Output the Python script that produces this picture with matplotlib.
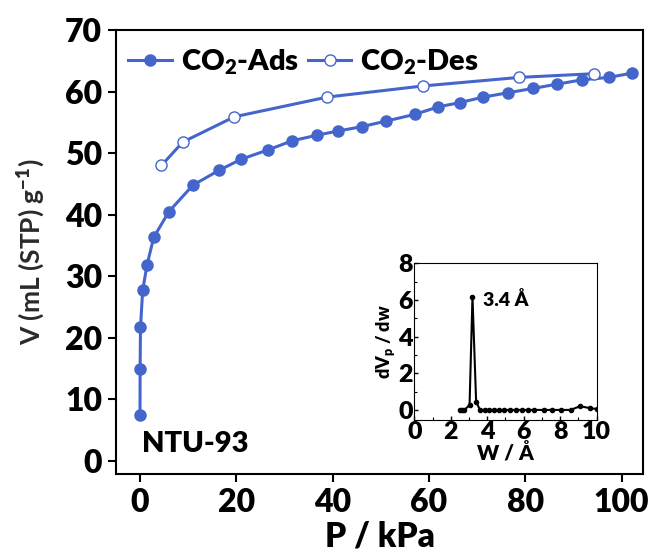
import matplotlib
matplotlib.use('Agg')
import numpy as np
from matplotlib import pyplot as plt
from matplotlib.ticker import MultipleLocator

W = 'heavy'
plt.rcParams['font.family'] = ['Lato', 'DejaVu Sans']
plt.rcParams['font.weight'] = W
plt.rcParams['mathtext.fontset'] = 'custom'
plt.rcParams['mathtext.rm'] = 'Lato:heavy'
plt.rcParams['mathtext.default'] = 'rm'

BLUE = '#4466CC'

# CO2 adsorption branch
p_ads = [0.0, 0.02, 0.1, 0.55, 1.45, 2.84, 6.0, 11.0, 16.4, 21.0, 26.5, 31.6, 36.7,
         41.2, 46.1, 51.1, 57.1, 61.9, 66.4, 71.3, 76.4, 81.6, 86.6, 91.8, 97.4, 102.2]
v_ads = [7.5, 15.0, 21.7, 27.7, 31.8, 36.3, 40.5, 44.8, 47.2, 49.0, 50.5, 52.0, 52.9,
         53.6, 54.3, 55.2, 56.3, 57.5, 58.2, 59.1, 59.8, 60.5, 61.2, 61.9, 62.3, 63.0]

# CO2 desorption branch
p_des = [4.45, 8.9, 19.6, 38.9, 58.7, 78.8, 94.3]
v_des = [48.0, 51.8, 55.9, 59.1, 60.9, 62.3, 62.9]

# pore size distribution
w_psd = [2.48, 2.61, 2.75, 3.03, 3.19, 3.39, 3.6, 3.85, 4.1, 4.37, 4.64, 4.92, 5.23,
         5.56, 5.89, 6.22, 6.58, 7.1, 7.56, 8.04, 8.57, 9.08, 9.63, 10.0]
dv_psd = [0.0, 0.0, 0.0, 0.27, 6.18, 0.45, 0.0, 0.0, 0.0, 0.0, 0.0, 0.0, 0.0,
          0.0, 0.0, 0.0, 0.0, 0.0, 0.0, 0.0, 0.0, 0.2, 0.1, 0.05]

fig = plt.figure(figsize=(6.55, 5.56), dpi=100)
ax = fig.add_axes([0.177, 0.1466, 0.805, 0.7995])

ax.plot(p_ads, v_ads, '-o', color=BLUE, lw=2.2, ms=8, mfc=BLUE, mec=BLUE,
        label='CO$_2$-Ads')
ax.plot(p_des, v_des, '-o', color=BLUE, lw=2.2, ms=8, mfc='white', mec=BLUE,
        label='CO$_2$-Des')

ax.set_xlim(-5, 104.5)
ax.set_ylim(-2.2, 70)
ax.set_xticks(np.arange(0, 101, 20))
ax.set_yticks(np.arange(0, 71, 10))
ax.tick_params(direction='out', length=6, width=1.5, labelsize=23, pad=4)
for s in ax.spines.values():
    s.set_linewidth(1.5)
for lab in ax.get_xticklabels() + ax.get_yticklabels():
    lab.set_fontweight(W)

ax.set_xlabel('P / kPa', fontsize=24, fontweight=W, labelpad=2)
ax.set_ylabel('V (mL (STP) g$^{-1}$)', fontsize=19, fontweight='bold',
              color='#2a2a2a', labelpad=13)

ax.legend(loc='upper left', ncol=2, frameon=False, fontsize=21,
          handlelength=1.5, handletextpad=0.3, columnspacing=0.3,
          borderaxespad=0.2, bbox_to_anchor=(-0.01, 1.0))

ax.text(0.05, 0.04, 'NTU-93', transform=ax.transAxes, fontsize=21,
        fontweight=W, ha='left', va='bottom')

# inset: pore size distribution
ins = fig.add_axes([0.6325, 0.2446, 0.2785, 0.2818])
ins.plot(w_psd, dv_psd, '-o', color='black', lw=1.5, ms=3)
ins.set_xlim(0, 10)
ins.set_ylim(-0.55, 8)
ins.set_xticks([0, 2, 4, 6, 8, 10])
ins.set_yticks([0, 2, 4, 6, 8])
ins.xaxis.set_minor_locator(MultipleLocator(1))
ins.yaxis.set_minor_locator(MultipleLocator(1))
ins.tick_params(which='major', direction='in', length=3, width=1, labelsize=18, pad=1)
ins.tick_params(which='minor', direction='in', length=2, width=0.8)
for lab in ins.get_xticklabels() + ins.get_yticklabels():
    lab.set_fontweight(W)
ins.set_xlabel('W / Å', fontsize=15, fontweight=W, labelpad=0)
ins.set_ylabel('dV$_p$ / dw', fontsize=13, fontweight=W, labelpad=1)
ins.text(3.75, 6.0, '3.4 Å', fontsize=14, fontweight=W, ha='left', va='center')

fig.savefig('out.png', dpi=100)
